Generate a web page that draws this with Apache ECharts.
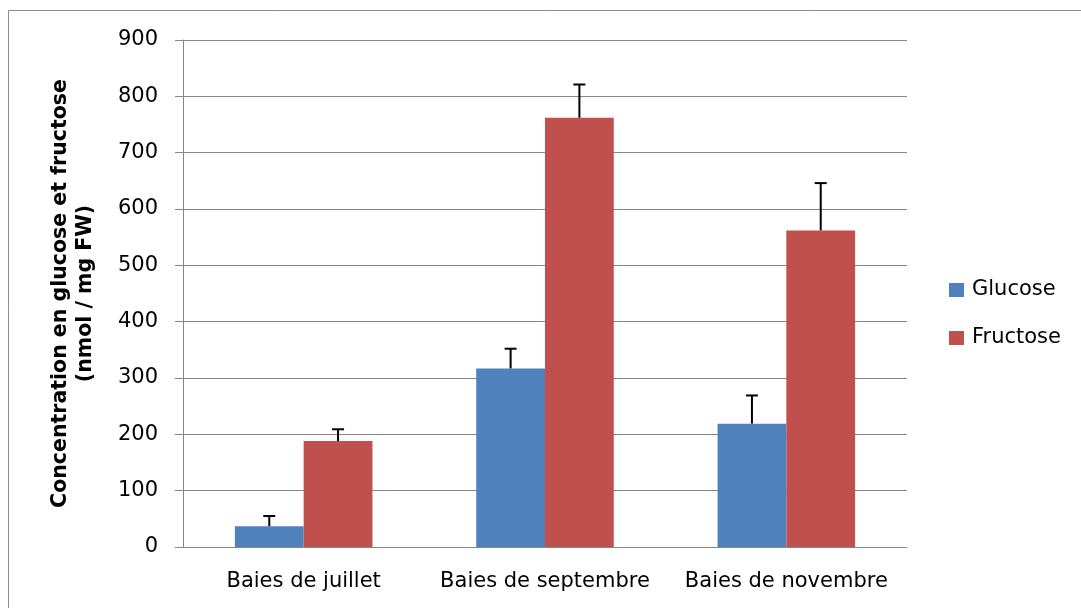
<!DOCTYPE html>
<html>
<head>
<meta charset="utf-8">
<script src="https://cdn.jsdelivr.net/npm/echarts@6/dist/echarts.min.js"></script>
<style>
  html, body { margin: 0; padding: 0; background: #fff; }
  #chart { width: 1081px; height: 608px; }
</style>
</head>
<body>
<div id="chart"></div>
<script>
// data
const categories = ["Baies de juillet", "Baies de septembre", "Baies de novembre"];
const glucose = [37, 317, 219];
const fructose = [188, 762, 562];
const glucoseErr = [18, 35, 50];
const fructoseErr = [21, 59, 84];
const yTicks = [0, 100, 200, 300, 400, 500, 600, 700, 800, 900];

const FONT = "DejaVu Sans";
const GAP = 0.43; // barCategoryGap

// error bar drawn over one bar of a pair (side -1 = left bar, +1 = right bar)
function errorBar(side) {
  return function (params, api) {
    const idx = api.value(0);
    const top = api.coord([idx, api.value(1) + api.value(2)]);
    const base = api.coord([idx, api.value(1)]);
    const band = api.size([1, 0])[0];
    const x = base[0] + side * band * (1 - GAP) / 4;
    const style = { stroke: "#000", lineWidth: 2 };
    return {
      type: "group",
      children: [
        { type: "line", shape: { x1: x, y1: base[1], x2: x, y2: top[1] }, style: style },
        { type: "line", shape: { x1: x - 6, y1: top[1], x2: x + 6, y2: top[1] }, style: style }
      ]
    };
  };
}

const chart = echarts.init(document.getElementById("chart"));
chart.setOption({
  animation: false,
  textStyle: { fontFamily: FONT },
  graphic: [{
    type: "rect",
    shape: { x: 8.5, y: 10.5, width: 1200, height: 800 },
    style: { fill: "none", stroke: "#8c8c8c", lineWidth: 1 },
    silent: true
  }],
  grid: { left: 183, right: 174, top: 40, bottom: 61 },
  legend: {
    orient: "vertical",
    left: 949,
    top: 279,
    padding: 0,
    itemWidth: 15,
    itemHeight: 14,
    itemGap: 26,
    icon: "rect",
    textStyle: { fontFamily: FONT, fontSize: 21, lineHeight: 22, color: "#000", padding: [0, 0, 0, 3] },
    data: ["Glucose", "Fructose"]
  },
  xAxis: {
    type: "category",
    data: categories,
    axisLine: { lineStyle: { color: "#868686" } },
    axisTick: { length: 7, lineStyle: { color: "#868686" } },
    axisLabel: { color: "#000", fontSize: 21, fontFamily: FONT, margin: 24, interval: 0 }
  },
  yAxis: {
    type: "value",
    min: yTicks[0],
    max: yTicks[yTicks.length - 1],
    interval: 100,
    name: "Concentration en glucose et fructose\n(nmol / mg FW)",
    nameLocation: "middle",
    nameRotate: 90,
    nameGap: 85,
    nameTextStyle: { fontFamily: FONT, fontSize: 20.5, fontWeight: "bold", color: "#000", lineHeight: 25 },
    axisLine: { show: true, lineStyle: { color: "#868686" } },
    axisTick: { show: true, length: 8, lineStyle: { color: "#868686" } },
    axisLabel: { color: "#000", fontSize: 21, fontFamily: FONT, margin: 25 },
    splitLine: { lineStyle: { color: "#868686" } }
  },
  series: [
    {
      name: "Glucose",
      type: "bar",
      data: glucose,
      barGap: "0%",
      barCategoryGap: "43%",
      itemStyle: { color: "#4F81BD" }
    },
    {
      name: "Fructose",
      type: "bar",
      data: fructose,
      barGap: "0%",
      barCategoryGap: "43%",
      itemStyle: { color: "#C0504D" }
    },
    {
      type: "custom",
      renderItem: errorBar(-1),
      data: glucose.map((v, i) => [i, v, glucoseErr[i]]),
      z: 10,
      silent: true
    },
    {
      type: "custom",
      renderItem: errorBar(1),
      data: fructose.map((v, i) => [i, v, fructoseErr[i]]),
      z: 10,
      silent: true
    }
  ]
});
</script>
</body>
</html>
